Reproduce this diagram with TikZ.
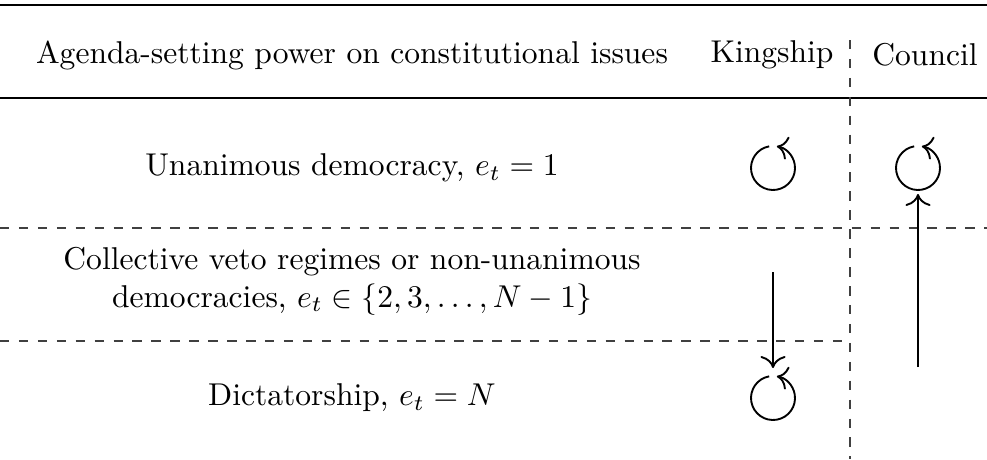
\documentclass[tikz,border=0pt]{standalone}
\usepackage{amsmath,amssymb}
\usepackage{tikz}
\usetikzlibrary{calc,positioning,arrows.meta}

\newlength{\pxu}
\setlength{\pxu}{0.317pt}
\tikzset{
  rowlabel/.style={align=center,inner sep=1pt},
  regime/.style={circle,minimum size=44\pxu,inner sep=0pt,outer sep=4\pxu},
  loopline/.style={-{To[scale=1.2]},semithick},
  flowline/.style={-{To[scale=1.3]},semithick},
  rowsep/.style={dashed,black!75},
}

\begin{document}
\begin{tikzpicture}[x=\pxu,y=-\pxu]
\useasboundingbox (0,0) rectangle (987,459);
% Rules of the table
\draw[line width=0.8pt] (0,5) -- (987,5);
\draw[line width=0.55pt] (0,98) -- (987,98);
\draw[rowsep] (0,228) -- (987,228);
\draw[rowsep] (0,341) -- (850,341);
\draw[rowsep] (850,40) -- (850,459);
% Header
\node[rowlabel] (hagenda) at (352,55) {Agenda-setting power on constitutional issues};
\node[rowlabel] (hking) at (772,55) {Kingship};
\node[rowlabel] (hcouncil) at (925,55) {Council};
% Rows
\node[rowlabel] (runan) at (352,168) {Unanimous democracy, $e_t=1$};
\node[rowlabel] (rveto) at (352,281) {Collective veto regimes or non-unanimous\\democracies, $e_t\in\{2,3,\dots,N-1\}$};
\node[rowlabel] (rdict) at (352,398) {Dictatorship, $e_t=N$};
% Regimes (self loops)
\foreach \name/\cx/\cy in {kuna/773/168, cuna/918/168, kdict/773/398}{%
  \node[regime] (\name) at (\cx,\cy) {};
  \draw[loopline] ($(\name.center)+(-100:22)$) arc (-100:-440:22);
}
% Transitions
\coordinate (kstart) at (773,272);
\coordinate (cstart) at (918,367);
\draw[flowline,shorten >=4\pxu] (kstart) -- (kdict.north);
\draw[flowline] (cstart) -- (cuna.south);
\end{tikzpicture}
\end{document}
